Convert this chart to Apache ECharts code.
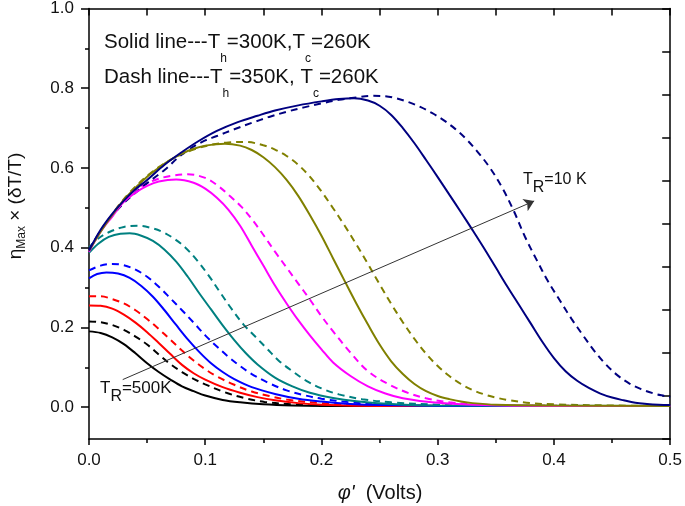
<!DOCTYPE html>
<html>
<head>
<meta charset="utf-8">
<script src="https://cdn.jsdelivr.net/npm/echarts@6/dist/echarts.min.js"></script>
<style>html,body{margin:0;padding:0;background:#fff;}#c{width:685px;height:506px;}</style>
</head>
<body>
<div id="c"></div>
<script>
// ---- data (phi' in volts, eta_max x dT/T) ----
const blackSolid = [[0,0.19],[0.01,0.186],[0.02,0.175],[0.03,0.158],[0.04,0.135],[0.05,0.11],[0.06,0.088],[0.07,0.069],[0.08,0.052],[0.09,0.04],[0.1,0.029],[0.115,0.018],[0.13,0.012],[0.15,0.007],[0.175,0.004],[0.2,0.003],[0.25,0.003],[0.5,0.003]];
const blackDash = [[0,0.215],[0.01,0.213],[0.02,0.206],[0.03,0.194],[0.04,0.177],[0.05,0.157],[0.06,0.132],[0.07,0.108],[0.08,0.088],[0.09,0.071],[0.1,0.057],[0.117,0.037],[0.135,0.022],[0.151,0.013],[0.175,0.007],[0.2,0.004],[0.25,0.003],[0.5,0.003]];
const redSolid = [[0,0.255],[0.01,0.254],[0.02,0.247],[0.03,0.232],[0.04,0.212],[0.05,0.188],[0.06,0.161],[0.07,0.133],[0.08,0.106],[0.09,0.085],[0.1,0.069],[0.115,0.05],[0.13,0.036],[0.145,0.025],[0.16,0.017],[0.18,0.01],[0.2,0.006],[0.25,0.003],[0.5,0.003]];
const redDash = [[0,0.278],[0.01,0.278],[0.02,0.271],[0.03,0.26],[0.04,0.243],[0.05,0.221],[0.06,0.196],[0.07,0.169],[0.08,0.142],[0.09,0.117],[0.1,0.095],[0.11,0.077],[0.125,0.056],[0.14,0.039],[0.155,0.028],[0.17,0.019],[0.2,0.01],[0.25,0.004],[0.5,0.003]];
const blueSolid = [[0,0.323],[0.007,0.334],[0.015,0.338],[0.025,0.335],[0.035,0.324],[0.045,0.304],[0.055,0.277],[0.065,0.243],[0.075,0.206],[0.085,0.17],[0.095,0.138],[0.105,0.11],[0.115,0.088],[0.125,0.07],[0.14,0.05],[0.16,0.033],[0.18,0.021],[0.2,0.014],[0.225,0.008],[0.25,0.005],[0.3,0.003],[0.5,0.003]];
const blueDash = [[0,0.343],[0.01,0.355],[0.02,0.359],[0.03,0.356],[0.04,0.345],[0.05,0.327],[0.06,0.302],[0.07,0.273],[0.08,0.243],[0.09,0.212],[0.1,0.18],[0.11,0.152],[0.12,0.126],[0.13,0.103],[0.14,0.083],[0.155,0.06],[0.17,0.042],[0.185,0.03],[0.2,0.021],[0.225,0.012],[0.25,0.007],[0.3,0.003],[0.5,0.003]];
const tealSolid = [[0,0.387],[0.008,0.41],[0.017,0.427],[0.027,0.435],[0.035,0.436],[0.045,0.43],[0.055,0.417],[0.065,0.395],[0.075,0.365],[0.085,0.327],[0.095,0.285],[0.105,0.245],[0.115,0.205],[0.125,0.168],[0.135,0.135],[0.145,0.107],[0.16,0.074],[0.175,0.052],[0.19,0.036],[0.21,0.023],[0.23,0.015],[0.26,0.008],[0.3,0.004],[0.5,0.003]];
const tealDash = [[0,0.4],[0.008,0.423],[0.018,0.44],[0.03,0.452],[0.042,0.455],[0.053,0.45],[0.063,0.44],[0.073,0.423],[0.083,0.4],[0.093,0.368],[0.103,0.33],[0.113,0.287],[0.123,0.245],[0.133,0.207],[0.143,0.177],[0.153,0.147],[0.163,0.117],[0.175,0.09],[0.187,0.066],[0.2,0.047],[0.215,0.032],[0.235,0.02],[0.26,0.012],[0.3,0.006],[0.35,0.003],[0.5,0.003]];
const magentaSolid = [[0,0.39],[0.01,0.44],[0.02,0.478],[0.03,0.515],[0.04,0.538],[0.05,0.555],[0.06,0.566],[0.075,0.571],[0.09,0.563],[0.1,0.548],[0.11,0.525],[0.12,0.495],[0.13,0.455],[0.14,0.405],[0.15,0.355],[0.16,0.305],[0.17,0.26],[0.18,0.218],[0.19,0.18],[0.2,0.145],[0.21,0.112],[0.225,0.078],[0.24,0.052],[0.255,0.034],[0.27,0.022],[0.295,0.012],[0.33,0.006],[0.4,0.003],[0.5,0.003]];
const magentaDash = [[0,0.392],[0.01,0.442],[0.02,0.483],[0.03,0.52],[0.04,0.545],[0.055,0.568],[0.07,0.58],[0.085,0.584],[0.1,0.575],[0.111,0.555],[0.121,0.53],[0.131,0.503],[0.141,0.468],[0.151,0.428],[0.16,0.39],[0.17,0.35],[0.18,0.31],[0.19,0.27],[0.2,0.228],[0.21,0.19],[0.224,0.14],[0.24,0.09],[0.258,0.057],[0.275,0.035],[0.29,0.022],[0.31,0.012],[0.34,0.006],[0.4,0.003],[0.5,0.003]];
const oliveSolid = [[0,0.392],[0.01,0.44],[0.02,0.482],[0.03,0.52],[0.04,0.55],[0.05,0.578],[0.06,0.6],[0.07,0.62],[0.08,0.636],[0.09,0.648],[0.1,0.656],[0.117,0.661],[0.13,0.656],[0.14,0.645],[0.15,0.627],[0.16,0.602],[0.17,0.57],[0.18,0.53],[0.19,0.482],[0.2,0.43],[0.21,0.373],[0.22,0.316],[0.23,0.26],[0.24,0.207],[0.25,0.157],[0.26,0.115],[0.27,0.083],[0.28,0.058],[0.29,0.04],[0.3,0.028],[0.31,0.02],[0.32,0.014],[0.33,0.01],[0.35,0.006],[0.4,0.004],[0.5,0.003]];
const oliveDash = [[0,0.393],[0.01,0.442],[0.02,0.484],[0.03,0.522],[0.04,0.553],[0.05,0.58],[0.06,0.602],[0.075,0.628],[0.09,0.646],[0.105,0.658],[0.12,0.664],[0.135,0.665],[0.15,0.657],[0.16,0.646],[0.17,0.63],[0.18,0.608],[0.19,0.578],[0.2,0.541],[0.21,0.499],[0.22,0.455],[0.23,0.408],[0.24,0.359],[0.25,0.308],[0.26,0.259],[0.27,0.213],[0.28,0.171],[0.29,0.134],[0.3,0.103],[0.31,0.078],[0.32,0.058],[0.33,0.043],[0.34,0.032],[0.35,0.024],[0.36,0.018],[0.38,0.01],[0.4,0.007],[0.45,0.004],[0.5,0.003]];
const navySolid = [[0,0.393],[0.01,0.445],[0.02,0.485],[0.03,0.518],[0.039,0.544],[0.05,0.57],[0.065,0.608],[0.08,0.64],[0.094,0.667],[0.11,0.693],[0.128,0.715],[0.145,0.731],[0.16,0.744],[0.18,0.757],[0.2,0.767],[0.215,0.773],[0.228,0.775],[0.24,0.769],[0.25,0.756],[0.26,0.733],[0.27,0.7],[0.28,0.662],[0.29,0.62],[0.3,0.577],[0.31,0.533],[0.32,0.489],[0.33,0.444],[0.34,0.398],[0.35,0.35],[0.36,0.302],[0.37,0.256],[0.38,0.21],[0.39,0.164],[0.4,0.123],[0.41,0.09],[0.42,0.066],[0.43,0.048],[0.44,0.034],[0.45,0.024],[0.46,0.017],[0.47,0.011],[0.48,0.008],[0.49,0.006],[0.5,0.005]];
const navyDash = [[0,0.395],[0.01,0.442],[0.02,0.48],[0.03,0.512],[0.04,0.538],[0.05,0.562],[0.065,0.595],[0.08,0.634],[0.097,0.665],[0.11,0.68],[0.125,0.697],[0.14,0.713],[0.155,0.728],[0.17,0.741],[0.185,0.752],[0.2,0.762],[0.215,0.771],[0.23,0.777],[0.243,0.781],[0.255,0.78],[0.265,0.774],[0.275,0.765],[0.285,0.753],[0.295,0.738],[0.305,0.72],[0.315,0.698],[0.325,0.671],[0.335,0.638],[0.345,0.6],[0.355,0.553],[0.365,0.495],[0.375,0.428],[0.385,0.37],[0.395,0.315],[0.405,0.268],[0.415,0.222],[0.425,0.18],[0.435,0.14],[0.445,0.106],[0.455,0.079],[0.465,0.059],[0.475,0.045],[0.485,0.035],[0.495,0.028],[0.5,0.025]];

const arrowFrom = [0.029, 0.069];
const arrowTo = [0.383, 0.517];

const xTicks = [0, 0.1, 0.2, 0.3, 0.4, 0.5];
const yTickLabels = [0, 0.2, 0.4, 0.6, 0.8, 1.0];
const yMinorTicks = [0.1, 0.3, 0.5, 0.7, 0.9];

const FONT = '"Liberation Sans", Arial, sans-serif';

const curves = [
  [blackDash, '#000000', true], [blackSolid, '#000000', false],
  [redDash, '#ff0000', true], [redSolid, '#ff0000', false],
  [blueDash, '#0000ff', true], [blueSolid, '#0000ff', false],
  [tealDash, '#008080', true], [tealSolid, '#008080', false],
  [magentaDash, '#ff00ff', true], [magentaSolid, '#ff00ff', false],
  [oliveDash, '#808000', true], [oliveSolid, '#808000', false],
  [navyDash, '#000080', true], [navySolid, '#000080', false]
];

const series = curves.map(([d, c, dash]) => ({
  type: 'line', data: d, showSymbol: false, symbol: 'none', smooth: 0.35,
  xAxisIndex: 0, yAxisIndex: 0, silent: true,
  lineStyle: { color: c, width: 2, type: dash ? [7, 5] : 'solid' },
  z: dash ? 2 : 3
}));
series.push({
  type: 'lines', coordinateSystem: 'cartesian2d', xAxisIndex: 0, yAxisIndex: 0,
  symbol: ['none', 'arrow'], symbolSize: [0, 10], silent: true, z: 5,
  lineStyle: { color: '#333', width: 1, opacity: 1 },
  data: [{ coords: [arrowFrom, arrowTo] }]
});

const axisLineStyle = { color: '#000', width: 1.5 };
const tickStyle = { color: '#000', width: 1.5 };
const chart = echarts.init(document.getElementById('c'), null, { renderer: 'canvas' });
chart.setOption({
  animation: false,
  backgroundColor: '#fff',
  grid: { left: 89, right: 13, top: 8, bottom: 67, containLabel: false },
  xAxis: [
    { type: 'value', position: 'bottom', min: 0, max: 0.5, interval: 0.1,
      axisLine: { show: true, onZero: false, lineStyle: axisLineStyle },
      axisTick: { show: true, inside: false, length: 6, lineStyle: tickStyle },
      minorTick: { show: true, splitNumber: 2, length: 4, lineStyle: tickStyle },
      splitLine: { show: false }, minorSplitLine: { show: false },
      axisLabel: { fontSize: 17, fontFamily: FONT, color: '#111', margin: 13,
        customValues: xTicks, formatter: v => v.toFixed(1) } },
    { type: 'value', position: 'top', min: 0, max: 0.5, interval: 0.05,
      axisLine: { show: true, onZero: false, lineStyle: axisLineStyle },
      axisTick: { show: true, inside: true, length: 7, lineStyle: tickStyle },
      axisLabel: { show: false }, splitLine: { show: false } }
  ],
  yAxis: [
    { type: 'value', position: 'left', min: -0.08, max: 1.0,
      axisLine: { show: true, onZero: false, lineStyle: axisLineStyle },
      axisTick: { show: true, inside: false, length: 8, customValues: yTickLabels, lineStyle: tickStyle },
      splitLine: { show: false },
      axisLabel: { fontSize: 17, fontFamily: FONT, color: '#111', margin: 15,
        customValues: yTickLabels, formatter: v => v.toFixed(1) } },
    { type: 'value', position: 'left', min: -0.08, max: 1.0,
      axisLine: { show: false, onZero: false },
      axisTick: { show: true, inside: false, length: 4, customValues: yMinorTicks, lineStyle: tickStyle },
      axisLabel: { show: false }, splitLine: { show: false } },
    { type: 'value', position: 'right', min: 0, max: 10, interval: 1,
      axisLine: { show: true, onZero: false, lineStyle: axisLineStyle },
      axisTick: { show: true, inside: true, length: 8, lineStyle: tickStyle },
      axisLabel: { show: false }, splitLine: { show: false } }
  ],
  graphic: [
    { type: 'text', x: 104, y: 30, silent: true,
      style: { text: '{a|Solid line---T}{s|h}{a|=300K,T}{s|c}{a|=260K}', align: 'left', verticalAlign: 'top',
        rich: { a: { fontSize: 20.5, fontFamily: FONT, fill: '#111', lineHeight: 24 },
                s: { fontSize: 12, fontFamily: FONT, fill: '#111', lineHeight: 13, padding: [33, 0, 0, 0] } } } },
    { type: 'text', x: 104, y: 65, silent: true,
      style: { text: '{a|Dash line---T}{s|h}{a|=350K, T}{s|c}{a|=260K}', align: 'left', verticalAlign: 'top',
        rich: { a: { fontSize: 20.5, fontFamily: FONT, fill: '#111', lineHeight: 24 },
                s: { fontSize: 12, fontFamily: FONT, fill: '#111', lineHeight: 13, padding: [33, 0, 0, 0] } } } },
    { type: 'text', x: 523, y: 171, silent: true,
      style: { text: '{a|T}{s|R}{a|=10 K}', align: 'left', verticalAlign: 'top',
        rich: { a: { fontSize: 16, fontFamily: FONT, fill: '#111', lineHeight: 18 },
                s: { fontSize: 16, fontFamily: FONT, fill: '#111', lineHeight: 18, padding: [16, 0, 0, 0] } } } },
    { type: 'text', x: 100, y: 378.5, silent: true,
      style: { text: '{a|T}{s|R}{a|=500K}', align: 'left', verticalAlign: 'top',
        rich: { a: { fontSize: 17, fontFamily: FONT, fill: '#111', lineHeight: 20 },
                s: { fontSize: 16, fontFamily: FONT, fill: '#111', lineHeight: 18, padding: [17, 0, 0, 0] } } } },
    { type: 'text', x: 380, y: 493, silent: true,
      style: { text: '{i|\u03c6\'}{a|  (Volts)}', align: 'center', verticalAlign: 'middle',
        rich: { i: { fontSize: 20, fontFamily: FONT, fontStyle: 'italic', fill: '#111' },
                a: { fontSize: 20, fontFamily: FONT, fill: '#111' } } } },
    { type: 'text', x: 16, y: 206, rotation: Math.PI / 2, silent: true,
      style: { text: '{a|\u03b7}{s|Max}{a| \u00d7 (\u03b4T/T)}', align: 'center', verticalAlign: 'middle',
        rich: { a: { fontSize: 19, fontFamily: FONT, fill: '#111', lineHeight: 22 },
                s: { fontSize: 12, fontFamily: FONT, fill: '#111', lineHeight: 13, padding: [12, 0, 0, 0] } } } }
  ],
  series: series
});
</script>
</body>
</html>
